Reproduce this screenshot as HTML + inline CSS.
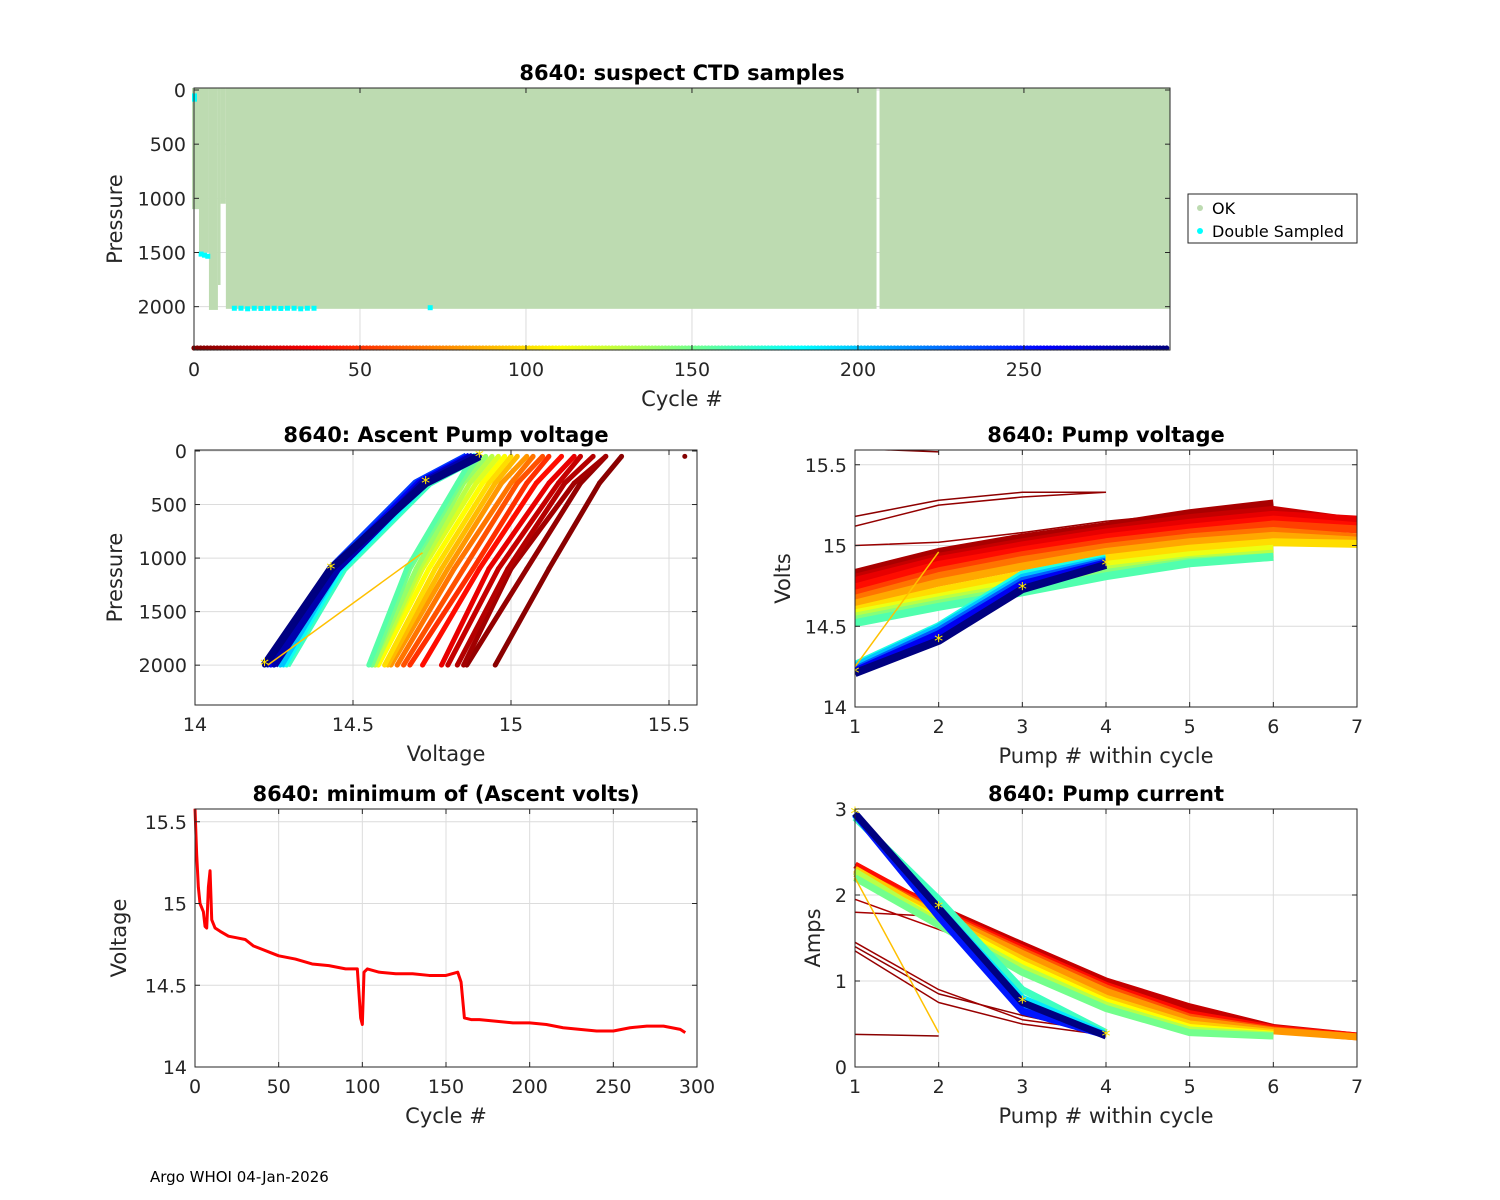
<!DOCTYPE html>
<html><head><meta charset="utf-8">
<style>
html,body{margin:0;padding:0;background:#fff;}
svg{display:block;font-family:"DejaVu Sans","Liberation Sans",sans-serif;}
.t{font-weight:bold;font-size:21px;text-anchor:middle;fill:#000}
.tk{font-size:19px;fill:#262626}
.lb{font-size:21px;fill:#262626;text-anchor:middle}
</style></head>
<body>
<svg id="s" width="1500" height="1200" viewBox="0 0 1500 1200">
<rect x="0" y="0" width="1500" height="1200" fill="#fff"/>
<text x="150" y="1182" font-size="15" fill="#000">Argo WHOI 04-Jan-2026</text>
</svg>
<script>
// ===== DATA =====
const ctdGroupStart=[-0.6,1.5,4.5,7.2,8,9.6,206.5];
const ctdGroupEnd=[1.5,4.5,7.2,8,9.6,205.6,294];
const ctdGroupMaxP=[1100,1500,2030,1800,1050,2020,2020];
const dblCycles=[0,0,2,3,4,12,14,16,18,20,22,24,26,28,30,32,34,36,71];
const dblPress=[50,80,1510,1520,1530,2010,2010,2015,2010,2012,2010,2010,2012,2010,2010,2015,2010,2010,2005];
const nCycles=293;
const minCycles=[0,1,2,3,5,6,7,8,9,10,12,15,20,25,30,35,40,45,50,55,60,70,80,90,97,99,100,101,103,110,120,130,140,150,157,159,161,165,170,180,190,200,210,220,230,240,250,260,270,280,290,293];
const minVolts=[15.58,15.3,15.1,15.0,14.95,14.86,14.85,15.1,15.2,14.9,14.85,14.83,14.8,14.79,14.78,14.74,14.72,14.7,14.68,14.67,14.66,14.63,14.62,14.6,14.6,14.3,14.26,14.58,14.6,14.58,14.57,14.57,14.56,14.56,14.58,14.52,14.3,14.29,14.29,14.28,14.27,14.27,14.26,14.24,14.23,14.22,14.22,14.24,14.25,14.25,14.23,14.21];
const ascPress=[2000,1100,300,50];
const ascCycles=[3,6,10,15,20,30,40,50,60,70,80,90,100,110,120,130,140,150,158,165,180,200,220,240,260,280,293];
const ascV=[
[14.95,15.12,15.28,15.35],[14.86,15.05,15.22,15.3],[14.85,15.0,15.2,15.3],[14.83,14.99,15.17,15.26],[14.8,14.96,15.15,15.22],
[14.78,14.93,15.12,15.2],[14.72,14.9,15.08,15.16],[14.68,14.88,15.05,15.12],[14.66,14.85,15.02,15.1],[14.64,14.82,15.0,15.07],
[14.62,14.8,14.97,15.05],[14.61,14.78,14.95,15.02],[14.6,14.76,14.93,15.0],[14.58,14.74,14.91,14.98],[14.57,14.72,14.89,14.96],
[14.57,14.71,14.87,14.94],[14.56,14.7,14.85,14.92],[14.56,14.68,14.84,14.9],[14.55,14.67,14.83,14.88],
[14.29,14.47,14.74,14.9],[14.28,14.46,14.73,14.89],[14.27,14.45,14.72,14.88],[14.25,14.44,14.71,14.87],
[14.23,14.43,14.7,14.86],[14.24,14.44,14.71,14.87],[14.25,14.45,14.72,14.88],[14.22,14.43,14.73,14.9]];
const pvCycles=[2,4,6,8,12,20,30,40,55,70,85,100,115,130,145,160,175,200,230,260,293,95];
const pvVolts=[
[15.6,15.58],[15.18,15.28,15.33,15.33],[15.12,15.25,15.3,15.33],[15.0,15.02,15.08,15.15,15.2,15.25],
[14.83,14.96,15.05,15.12,15.2,15.26],[14.8,14.93,15.02,15.1,15.17,15.22,15.15],[14.78,14.91,15.0,15.08,15.14,15.19,15.16],
[14.74,14.88,14.97,15.05,15.11,15.16,15.12],[14.7,14.84,14.94,15.02,15.08,15.13,15.1],[14.67,14.81,14.91,14.99,15.05,15.09,15.05],
[14.64,14.77,14.87,14.96,15.02,15.06,15.03],[14.6,14.72,14.82,14.92,14.98,15.02,15.01],[14.58,14.68,14.78,14.88,14.94,14.98],
[14.56,14.66,14.75,14.85,14.91,14.95],[14.54,14.64,14.73,14.83,14.9,14.93],[14.52,14.62,14.71,14.81,14.89,14.93],
[14.26,14.5,14.82,14.92],[14.25,14.49,14.8,14.91],[14.23,14.47,14.78,14.9],[14.22,14.45,14.76,14.89],[14.21,14.41,14.73,14.88],
[14.25,14.96]];
const pcCycles=[3,5,7,9,11,13,20,40,60,80,95,110,130,150,165,190,220,250,293,97];
const pcAmps=[
[0.38,0.36],[1.4,0.85,0.6,0.4],[1.35,0.75,0.5,0.37],[1.45,0.9,0.55,0.42],[1.8,1.75,1.4],[1.95,1.6,1.25,0.95],
[2.3,1.85,1.42,1.0,0.7,0.46,0.36],[2.35,1.82,1.38,0.95,0.62,0.45,0.36],[2.28,1.8,1.35,0.92,0.58,0.43,0.35],[2.25,1.78,1.32,0.88,0.55,0.42,0.35],
[2.3,1.75,1.25,0.8,0.5,0.4],[2.22,1.72,1.2,0.76,0.46,0.38],[2.27,1.68,1.15,0.72,0.43,0.37],[2.2,1.65,1.1,0.68,0.4,0.36],
[2.9,1.95,0.9,0.4],[2.93,1.85,0.8,0.38],[2.95,1.8,0.72,0.37],[2.94,1.75,0.65,0.37],[2.95,1.85,0.75,0.36],
[2.2,0.4]];

// ===== HELPERS =====
const NS="http://www.w3.org/2000/svg";
const svg=document.getElementById('s');
function mk(tag,attrs,parent){const e=document.createElementNS(NS,tag);for(const k in attrs)e.setAttribute(k,attrs[k]);(parent||svg).appendChild(e);return e;}
function jet(c){let t=1-c/nCycles;const cl=v=>Math.max(0,Math.min(1,v));const r=cl(1.5-Math.abs(4*t-3)),g=cl(1.5-Math.abs(4*t-2)),b=cl(1.5-Math.abs(4*t-1));return `rgb(${Math.round(r*255)},${Math.round(g*255)},${Math.round(b*255)})`;}
function lin(d0,d1,r0,r1){return v=>r0+(v-d0)*(r1-r0)/(d1-d0);}
function axes(name,x0,y0,x1,y1,xs,xt,xtl,ys,yt,ytl,title,xl,yl,grid,ylx){
  const g=mk('g',{});
  
  
  const gg=mk('g',{},g);
  if(grid){xt.forEach(v=>mk('line',{x1:xs(v),x2:xs(v),y1:y0,y2:y1,stroke:'#dcdcdc','stroke-width':1},gg));
    yt.forEach(v=>mk('line',{x1:x0,x2:x1,y1:ys(v),y2:ys(v),stroke:'#dcdcdc','stroke-width':1},gg));}
  const plot=mk('g',{},g);
  const fg=mk('g',{},g);
  mk('rect',{x:x0,y:y0,width:x1-x0,height:y1-y0,fill:'none',stroke:'#262626','stroke-width':1},fg);
  xt.forEach((v,i)=>{const x=xs(v);mk('line',{x1:x,x2:x,y1:y1,y2:y1-5,stroke:'#262626'},fg);mk('line',{x1:x,x2:x,y1:y0,y2:y0+5,stroke:'#262626'},fg);
    const t=mk('text',{x:x,y:y1+26,class:'tk','text-anchor':'middle'},fg);t.textContent=xtl[i];
    
    });
  yt.forEach((v,i)=>{const y=ys(v);mk('line',{x1:x0,x2:x0+5,y1:y,y2:y,stroke:'#262626'},fg);mk('line',{x1:x1,x2:x1-5,y1:y,y2:y,stroke:'#262626'},fg);
    const t=mk('text',{x:x0-8,y:y+7,class:'tk','text-anchor':'end'},fg);t.textContent=ytl[i];
    
    });
  const tt=mk('text',{x:(x0+x1)/2,y:y0-8,class:'t'},fg);tt.textContent=title;
  
  
  const xa=mk('text',{x:(x0+x1)/2,y:y1+56,class:'lb'},fg);xa.textContent=xl;
  
  
  const yx=ylx, yy=(y0+y1)/2;
  const ya=mk('text',{x:yx,y:yy,class:'lb',transform:`rotate(-90 ${yx} ${yy})`},fg);ya.textContent=yl;
  
  
  return plot;
}
function star(p,x,y){mk('text',{x:x,y:y+6,'font-size':18,fill:'#ffe600','text-anchor':'middle'},p).textContent='*';}

// ===== TOP CHART =====
{
const xs=lin(0,294,194,1170), ys=lin(0,2400,90,350);
const p=axes('ctd-samples-chart',194,88,1170,350,xs,[0,50,100,150,200,250],['0','50','100','150','200','250'],ys,[0,500,1000,1500,2000],['0','500','1000','1500','2000'],'8640: suspect CTD samples','Cycle #','Pressure',true,122);
ctdGroupStart.forEach((s,i)=>{const r=mk('rect',{x:xs(s),y:88,width:xs(ctdGroupEnd[i])-xs(s),height:ys(ctdGroupMaxP[i])-88,fill:'#bddbb1'},p);
  
  });
dblCycles.forEach((c,i)=>{const r=mk('rect',{x:xs(c)-2,y:ys(dblPress[i])-2,width:5,height:5,fill:'#00ffff'},p);
  
  });
for(let c=0;c<=nCycles;c++){const d=mk('circle',{cx:xs(c),cy:348,r:2.6,fill:jet(c)},p);
  
  }
const lg=mk('g',{});


mk('rect',{x:1188,y:194,width:169,height:49,fill:'#fff',stroke:'#262626'},lg);
mk('circle',{cx:1200,cy:208,r:3,fill:'#bddbb1'},lg);
mk('circle',{cx:1200,cy:231,r:3,fill:'#00ffff'},lg);
const l1=mk('text',{x:1212,y:214,'font-size':16,fill:'#000'},lg);l1.textContent='OK';


const l2=mk('text',{x:1212,y:237,'font-size':16,fill:'#000'},lg);l2.textContent='Double Sampled';


}

// ===== ASCENT PUMP VOLTAGE =====
{
const xs=lin(14,15.6,195,700.6), ys=lin(0,2400,451,708);
const p=axes('ascent-pump-voltage-chart',195,450,697,705,xs,[14,14.5,15,15.5],['14','14.5','15','15.5'],ys,[0,500,1000,1500,2000],['0','500','1000','1500','2000'],'8640: Ascent Pump voltage','Voltage','Pressure',true,122);
const cp=mk('clipPath',{id:'c1'});mk('rect',{x:195,y:450,width:502,height:255},cp);p.setAttribute('clip-path','url(#c1)');
ascCycles.forEach((c,i)=>{const pts=ascV[i].map((v,j)=>xs(v)+','+ys(ascPress[j])).join(' ');
  const w=c>160?8:5;
  const l=mk('polyline',{points:pts,fill:'none',stroke:jet(c),'stroke-width':w,'stroke-linejoin':'round'},p);
  
  
  ascV[i].forEach((v,j)=>mk('circle',{cx:xs(v),cy:ys(ascPress[j]),r:2.5,fill:jet(c)},p));});
mk('circle',{cx:xs(15.55),cy:ys(50),r:2.5,fill:jet(1)},p);
mk('line',{x1:xs(14.23),y1:ys(2000),x2:xs(14.72),y2:ys(950),stroke:'#ffc000','stroke-width':1.5},p);
const last=ascV[ascV.length-1];last.forEach((v,j)=>star(p,xs(v),ys(ascPress[j])));
}

// ===== PUMP VOLTAGE =====
{
const xs=lin(1,7,855,1357), ys=lin(14,15.6,707,448.6);
const p=axes('pump-voltage-chart',855,450,1357,707,xs,[1,2,3,4,5,6,7],['1','2','3','4','5','6','7'],ys,[14,14.5,15,15.5],['14','14.5','15','15.5'],'8640: Pump voltage','Pump # within cycle','Volts',true,790);
const cp=mk('clipPath',{id:'c2'});mk('rect',{x:855,y:450,width:502,height:257},cp);p.setAttribute('clip-path','url(#c2)');
pvCycles.forEach((c,i)=>{const pts=pvVolts[i].map((v,j)=>xs(j+1)+','+ys(v)).join(' ');
  const w=(c<10)?1.5:(c===95?1.5:8);
  const l=mk('polyline',{points:pts,fill:'none',stroke:c===95?'#ffc000':jet(c),'stroke-width':w,'stroke-linejoin':'round'},p);
  
  });
const last=pvVolts[pvCycles.indexOf(293)];last.forEach((v,j)=>star(p,xs(j+1),ys(v)));
}

// ===== MIN ASCENT VOLTS =====
{
const xs=lin(0,300,195,697), ys=lin(14,15.5,1067,821.75);
const p=axes('min-ascent-volts-chart',195,809,697,1067,xs,[0,50,100,150,200,250,300],['0','50','100','150','200','250','300'],ys,[14,14.5,15,15.5],['14','14.5','15','15.5'],'8640: minimum of (Ascent volts)','Cycle #','Voltage',true,126);
const pts=minCycles.map((c,i)=>xs(c)+','+ys(minVolts[i])).join(' ');
const l=mk('polyline',{points:pts,fill:'none',stroke:'#ff0000','stroke-width':3,'stroke-linejoin':'round'},p);


}

// ===== PUMP CURRENT =====
{
const xs=lin(1,7,855,1357), ys=lin(0,3,1067,809);
const p=axes('pump-current-chart',855,809,1357,1067,xs,[1,2,3,4,5,6,7],['1','2','3','4','5','6','7'],ys,[0,1,2,3],['0','1','2','3'],'8640: Pump current','Pump # within cycle','Amps',true,820);
pcCycles.forEach((c,i)=>{const pts=pcAmps[i].map((v,j)=>xs(j+1)+','+ys(v)).join(' ');
  const w=(c<15||c===97)?1.5:7;
  const l=mk('polyline',{points:pts,fill:'none',stroke:c===97?'#ffc000':jet(c),'stroke-width':w,'stroke-linejoin':'round'},p);
  
  });
const last=pcAmps[pcCycles.indexOf(293)];last.forEach((v,j)=>star(p,xs(j+1),ys(v)));
}
</script>
</body></html>
